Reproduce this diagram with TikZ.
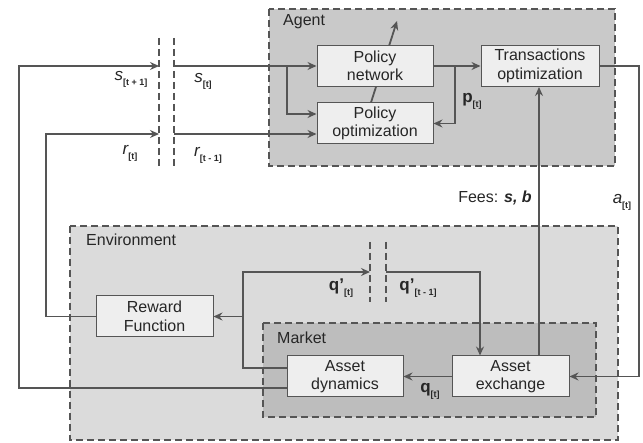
\documentclass[tikz,border=0pt]{standalone}
\usepackage{fontspec}
\setmainfont{Liberation Sans}
\usetikzlibrary{arrows.meta}
\definecolor{ln}{HTML}{555555}
\definecolor{agentbg}{HTML}{C9C9C9}
\definecolor{envbg}{HTML}{DBDBDB}
\definecolor{mktbg}{HTML}{BDBDBD}
\definecolor{boxbg}{HTML}{EEEEEE}
\newcommand{\sub}[1]{\raisebox{-5pt}{\fontsize{9}{9}\selectfont\upshape\bfseries #1}}
\begin{document}
\begin{tikzpicture}[x=1pt,y=-1pt,
  font=\fontsize{16}{18.5}\selectfont,
  container/.style={draw=ln, line width=1.7pt, dash pattern=on 7pt off 4pt},
  sep/.style={draw=ln, line width=1.7pt, dash pattern=on 7pt off 4pt},
  blk/.style={draw=ln, line width=1pt, fill=boxbg, minimum width=116pt, minimum height=41pt, inner sep=0pt, align=center, text=black!85, font=\fontsize{16}{18.5}\selectfont},
  arr/.style={draw=ln, line width=1.8pt, -{Stealth[length=9pt,width=8pt,inset=3pt]}},
  lab/.style={inner sep=0pt, text=black!85}]
\useasboundingbox (0,0) rectangle (643,443);
% containers
\fill[agentbg] (269,9) rectangle (615,166);
\draw[container] (269,9) rectangle (615,166);
\fill[envbg] (70,226) rectangle (618,440);
\draw[container] (70,226) rectangle (618,440);
\fill[mktbg] (263,323) rectangle (596,417);
\draw[container] (263,323) rectangle (596,417);
\node[lab, anchor=west] (agl) at (283,22) {Agent};
\node[lab, anchor=west] (envl) at (86,240) {Environment};
\node[lab, anchor=west] (mktl) at (277,338) {Market};
% separators
\coordinate (sL) at (159,66); \coordinate (sR) at (174,66);
\coordinate (rL) at (159,134); \coordinate (rR) at (174,134);
\coordinate (qL) at (370,272); \coordinate (qR) at (386,272);
\draw[sep] (159,38) -- (159,167);
\draw[sep] (174,38) -- (174,167);
\draw[sep] (370,242) -- (370,302);
\draw[sep] (386,242) -- (386,302);
% nodes
\node[blk] (po) at (375,123.5) {Policy\\optimization};
\coordinate (up) at (397,21);
\draw[arr] ([xshift=-4pt]po.north) -- (up);
\node[blk] (pn) at (375,66) {Policy\\network};
\node[blk, minimum width=118pt] (to) at (540,66) {Transactions\\optimization};
\node[blk, minimum width=117pt] (rf) at (154.5,316.5) {Reward\\Function};
\node[blk] (ad) at (345,376.5) {Asset\\dynamics};
\node[blk, minimum width=117pt] (ae) at (510.5,376.5) {Asset\\exchange};
% connectors
\draw[arr] ([yshift=-11.5pt]ad.west) -| (19,66) -- (sL);
\draw[arr] (sR) -- (pn.west);
\coordinate (sb) at (287,66);
\draw[arr] (sb) |- ([yshift=9.5pt]po.west);
\draw[arr] (rf.west) -| (46,134) -- (rL);
\draw[arr] (rR) -- ([yshift=-10.5pt]po.west);
\draw[arr] (pn.east) -- (to.west);
\coordinate (pb) at (455,66);
\draw[arr] (pb) |- (po.east);
\coordinate (fx) at (539,0);
\draw[arr] (ae.north -| fx) -- (to.south -| fx);
\draw[arr] (to.east) -| (639,250) |- (ae.east);
\draw[arr] (ae.west) -- (ad.east);
\draw[arr] ([yshift=8.5pt]ad.west) -| (243,272) -- (qL);
\coordinate (qb) at (243,316.5);
\draw[arr] (qb) -- (rf.east);
\draw[arr] (qR) -| ([xshift=-30.5pt]ae.north);
% labels
\node[lab] (ls1) at (131,79) {\fontsize{17}{17}\selectfont\itshape s\sub{[t + 1]}};
\node[lab] (ls0) at (203,81) {\fontsize{17}{17}\selectfont\itshape s\sub{[t]}};
\node[lab] (lr0) at (130,153) {\fontsize{17}{17}\selectfont\itshape r\sub{[t]}};
\node[lab] (lr1) at (208,155) {\fontsize{17}{17}\selectfont\itshape r\sub{[t - 1]}};
\node[lab] (lp) at (472,101) {\fontsize{17}{17}\selectfont\bfseries p\sub{[t]}};
\node[lab] (lf) at (495,198) {\fontsize{16}{16}\selectfont Fees: \textbf{\itshape s, b}};
\node[lab] (la) at (622,202) {\fontsize{17}{17}\selectfont\itshape a\sub{[t]}};
\node[lab] (lq1) at (341,288) {\fontsize{17}{17}\selectfont\bfseries q'\sub{[t]}};
\node[lab] (lq2) at (418,288) {\fontsize{17}{17}\selectfont\bfseries q'\sub{[t - 1]}};
\node[lab] (lq0) at (430,391) {\fontsize{17}{17}\selectfont\bfseries q\sub{[t]}};
\end{tikzpicture}
\end{document}
